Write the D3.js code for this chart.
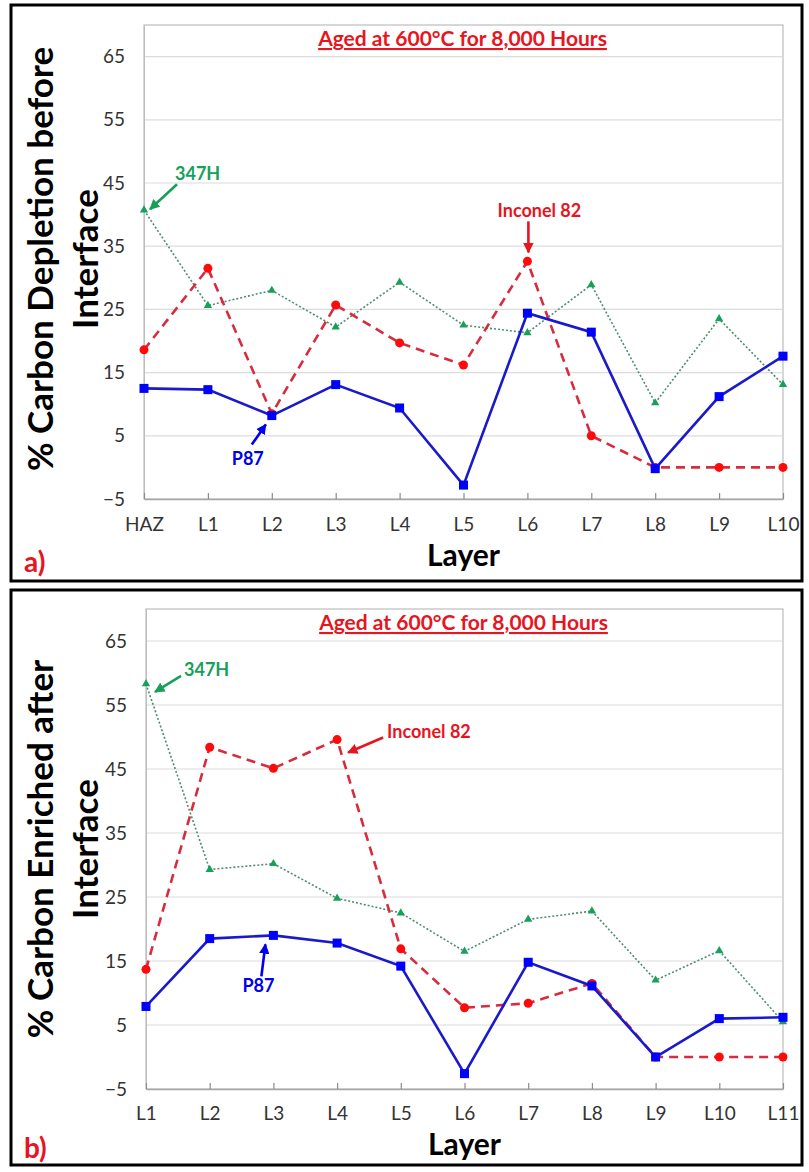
<!DOCTYPE html>
<html>
<head>
<meta charset="utf-8">
<script src="https://cdn.jsdelivr.net/npm/d3@7"></script>
<style>
  body { margin: 0; background: #fff; }
  svg { display: block; }
  text { font-family: Lato, "Open Sans", "Liberation Sans", sans-serif; }
</style>
</head>
<body>
<svg id="fig" width="809" height="1172"></svg>
<script>
// ---- data: carbon depletion before the interface (panel a) ----
const layersA   = ["HAZ", "L1", "L2", "L3", "L4", "L5", "L6", "L7", "L8", "L9", "L10"];
const p87A      = [12.5, 12.3, 8.2, 13.1, 9.4, -2.8, 24.4, 21.4, -0.2, 11.2, 17.6];
const inconelA  = [18.6, 31.5, 8.5, 25.7, 19.7, 16.2, 32.6, 5.0, 0.0, 0.0, 0.0];
const h347A     = [40.7, 25.6, 28.0, 22.2, 29.3, 22.5, 21.3, 28.9, 10.2, 23.5, 13.1];

// ---- data: carbon enriched after the interface (panel b) ----
const layersB   = ["L1", "L2", "L3", "L4", "L5", "L6", "L7", "L8", "L9", "L10", "L11"];
const p87B      = [7.9, 18.5, 19.0, 17.8, 14.2, -2.6, 14.8, 11.1, 0.0, 6.0, 6.2];
const inconelB  = [13.7, 48.4, 45.1, 49.6, 16.9, 7.7, 8.4, 11.5, 0.0, 0.0, 0.0];
const h347B     = [58.3, 29.3, 30.2, 24.8, 22.5, 16.5, 21.5, 22.8, 12.0, 16.6, 5.5];

// ---- axis settings ----
const yTicks  = [-5, 5, 15, 25, 35, 45, 55, 65];
const yDomain = [-5, 70];
const chartTitle = "Aged at 600°C for 8,000 Hours";
const xTitle = "Layer";

const svg = d3.select("#fig");

// arrowheads for the callouts
const defs = svg.append("defs");
const colors = { p87: "#0000ee", inconel: "#e8141e", h347: "#17a05a" };
Object.entries(colors).forEach(([k, c]) => {
  defs.append("marker")
    .attr("id", "arrow-" + k)
    .attr("viewBox", "0 0 10 10")
    .attr("refX", 9).attr("refY", 5)
    .attr("markerWidth", 4).attr("markerHeight", 4)
    .attr("markerUnits", "strokeWidth")
    .attr("orient", "auto")
    .append("path").attr("d", "M0,0 L10,5 L0,10 z").attr("fill", c);
});

function drawPanel(cfg) {
  const g = svg.append("g");

  // outer frame
  g.append("rect")
    .attr("x", cfg.box[0]).attr("y", cfg.box[1])
    .attr("width", cfg.box[2]).attr("height", cfg.box[3])
    .attr("fill", "#fff").attr("stroke", "#000").attr("stroke-width", 3);

  const x = d3.scalePoint().domain(cfg.layers).range([cfg.plot.x0, cfg.plot.x1]).padding(0);
  const y = d3.scaleLinear().domain(yDomain).range([cfg.plot.y1, cfg.plot.y0]);

  // plot-area border
  g.append("rect")
    .attr("x", cfg.plot.x0).attr("y", cfg.plot.y0)
    .attr("width", cfg.plot.x1 - cfg.plot.x0).attr("height", cfg.plot.y1 - cfg.plot.y0)
    .attr("fill", "none").attr("stroke", "#bdbdbd").attr("stroke-width", 1.2);

  // horizontal gridlines
  g.append("g").selectAll("line").data(yTicks.filter(t => t > yDomain[0]))
    .join("line")
    .attr("x1", cfg.plot.x0).attr("x2", cfg.plot.x1)
    .attr("y1", d => y(d)).attr("y2", d => y(d))
    .attr("stroke", "#dcdcdc").attr("stroke-width", 1.2);

  // y axis
  const yAxis = g.append("g")
    .attr("transform", `translate(${cfg.plot.x0},0)`)
    .call(d3.axisLeft(y).tickValues(yTicks).tickSize(0).tickPadding(19));
  yAxis.select(".domain").attr("stroke", "#bdbdbd");
  yAxis.selectAll("text").attr("font-size", 19).attr("fill", "#333")
    .style("font-family", "Lato, 'Open Sans', sans-serif");

  // x axis with inside ticks
  const xAxis = g.append("g")
    .attr("transform", `translate(0,${cfg.plot.y1})`)
    .call(d3.axisBottom(x).tickSizeInner(-6).tickSizeOuter(0).tickPadding(0));
  xAxis.select(".domain").attr("stroke", "#a6a6a6").attr("stroke-width", 1.5);
  xAxis.selectAll(".tick line").attr("stroke", "#8c8c8c").attr("stroke-width", 1.2);
  xAxis.selectAll("text").attr("font-size", 19).attr("fill", "#333")
    .attr("y", cfg.tickY).attr("dy", 0)
    .style("font-family", "Lato, 'Open Sans', sans-serif");

  // title
  g.append("text")
    .attr("x", (cfg.plot.x0 + cfg.plot.x1) / 2 - 1).attr("y", cfg.plot.y0 + 21)
    .attr("text-anchor", "middle")
    .attr("font-size", 21).attr("font-weight", 700)
    .attr("fill", "#e8141e")
    .style("text-decoration", "underline")
    .text(chartTitle);

  // axis titles
  g.append("text")
    .attr("x", (cfg.plot.x0 + cfg.plot.x1) / 2).attr("y", cfg.plot.y1 + cfg.layerY)
    .attr("text-anchor", "middle")
    .attr("font-size", 30).attr("font-weight", 700).attr("fill", "#000")
    .text(xTitle);

  const cy = (cfg.plot.y0 + cfg.plot.y1) / 2 + cfg.yTitleShift;
  cfg.yTitle.forEach((line, i) => {
    g.append("text")
      .attr("transform", `translate(${[53, 98][i]},${cy}) rotate(-90)`)
      .attr("text-anchor", "middle")
      .attr("font-size", 35).attr("font-weight", 700).attr("fill", "#000")
      .text(line);
  });

  // panel letter
  g.append("text")
    .attr("x", 24).attr("y", cfg.plot.y1 + cfg.letterY)
    .attr("font-size", 28).attr("font-weight", 700).attr("fill", "#e8141e")
    .text(cfg.letter);

  const line = d3.line().x((d, i) => x(cfg.layers[i])).y(d => y(d));

  // 347H – dotted green with triangles
  g.append("path").datum(cfg.h347)
    .attr("d", line).attr("fill", "none")
    .attr("stroke", "#4f8c70").attr("stroke-width", 1.6)
    .attr("stroke-dasharray", "2,2");
  g.append("g").selectAll("path").data(cfg.h347).join("path")
    .attr("transform", (d, i) => `translate(${x(cfg.layers[i])},${y(d)})`)
    .attr("d", d3.symbol(d3.symbolTriangle, 30))
    .attr("fill", colors.h347);

  // Inconel 82 – dashed red with circles
  g.append("path").datum(cfg.inconel)
    .attr("d", line).attr("fill", "none")
    .attr("stroke", "#d62c3e").attr("stroke-width", 2.6)
    .attr("stroke-dasharray", "9,6");
  g.append("g").selectAll("circle").data(cfg.inconel).join("circle")
    .attr("cx", (d, i) => x(cfg.layers[i])).attr("cy", d => y(d))
    .attr("r", 4.5).attr("fill", "#ff0a0a");

  // P87 – solid blue with squares
  g.append("path").datum(cfg.p87)
    .attr("d", line).attr("fill", "none")
    .attr("stroke", "#1a1acc").attr("stroke-width", 2.6);
  g.append("g").selectAll("rect").data(cfg.p87).join("rect")
    .attr("x", (d, i) => x(cfg.layers[i]) - 4.5).attr("y", d => y(d) - 4.5)
    .attr("width", 9).attr("height", 9).attr("fill", "#0000ff");

  // callouts: label + arrow anchored at a data point
  cfg.notes.forEach(n => {
    const px = x(cfg.layers[n.index]);
    const py = y(cfg[n.series][n.index]);
    g.append("line")
      .attr("x1", px + n.tail[0]).attr("y1", py + n.tail[1])
      .attr("x2", px + n.tip[0]).attr("y2", py + n.tip[1])
      .attr("stroke", colors[n.series]).attr("stroke-width", 2.6)
      .attr("marker-end", `url(#arrow-${n.series})`);
    g.append("text")
      .attr("x", px + n.label[0]).attr("y", py + n.label[1])
      .attr("text-anchor", n.anchor)
      .attr("font-size", 18).attr("font-weight", 700)
      .attr("fill", colors[n.series])
      .text(n.text);
  });
}

drawPanel({
  box: [11, 5, 791, 576],
  plot: { x0: 144, x1: 783, y0: 25, y1: 499 },
  tickY: 32, layerY: 67, letterY: 73, yTitleShift: -3,
  layers: layersA, p87: p87A, inconel: inconelA, h347: h347A,
  yTitle: ["% Carbon Depletion before", "Interface"],
  letter: "a)",
  notes: [
    { series: "h347", index: 0, text: "347H", anchor: "start", tail: [33, -26], tip: [6, -1], label: [31, -30] },
    { series: "inconel", index: 6, text: "Inconel 82", anchor: "middle", tail: [1, -40], tip: [1, -9], label: [12, -44] },
    { series: "p87", index: 2, text: "P87", anchor: "middle", tail: [-20, 29], tip: [-6, 9], label: [-24, 49] }
  ]
});

drawPanel({
  box: [11, 590, 791, 575],
  plot: { x0: 146, x1: 783, y0: 609, y1: 1089 },
  tickY: 31, layerY: 66, letterY: 69, yTitleShift: 0,
  layers: layersB, p87: p87B, inconel: inconelB, h347: h347B,
  yTitle: ["% Carbon Enriched after", "Interface"],
  letter: "b)",
  notes: [
    { series: "h347", index: 0, text: "347H", anchor: "start", tail: [35, -8], tip: [9, 8], label: [38, -8] },
    { series: "inconel", index: 3, text: "Inconel 82", anchor: "start", tail: [46, -2], tip: [11, 13], label: [50, -2] },
    { series: "p87", index: 2, text: "P87", anchor: "middle", tail: [-12, 41], tip: [-8, 9], label: [-15, 57] }
  ]
});
</script>
</body>
</html>
